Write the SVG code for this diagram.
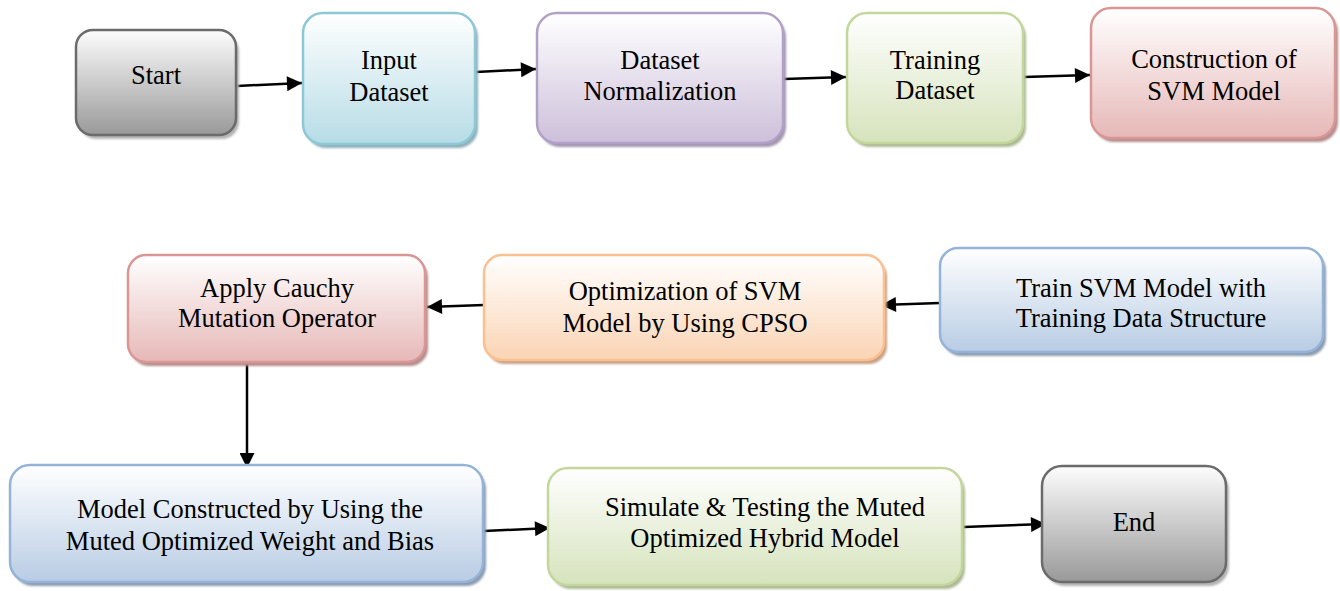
<svg xmlns="http://www.w3.org/2000/svg" width="1340" height="591" viewBox="0 0 1340 591">
  <defs>
    <linearGradient id="gGray" x1="0" y1="0" x2="0" y2="1">
      <stop offset="0" stop-color="#fdfdfd"/>
      <stop offset="1" stop-color="#999999"/>
    </linearGradient>
    <linearGradient id="gCyan" x1="0" y1="0" x2="0" y2="1">
      <stop offset="0" stop-color="#ffffff"/>
      <stop offset="1" stop-color="#b6dce6"/>
    </linearGradient>
    <linearGradient id="gPurple" x1="0" y1="0" x2="0" y2="1">
      <stop offset="0" stop-color="#ffffff"/>
      <stop offset="1" stop-color="#cdbfda"/>
    </linearGradient>
    <linearGradient id="gGreen" x1="0" y1="0" x2="0" y2="1">
      <stop offset="0" stop-color="#ffffff"/>
      <stop offset="1" stop-color="#d6e3bc"/>
    </linearGradient>
    <linearGradient id="gRed" x1="0" y1="0" x2="0" y2="1">
      <stop offset="0" stop-color="#ffffff"/>
      <stop offset="1" stop-color="#e6b8b7"/>
    </linearGradient>
    <linearGradient id="gOrange" x1="0" y1="0" x2="0" y2="1">
      <stop offset="0" stop-color="#ffffff"/>
      <stop offset="1" stop-color="#fbd4b4"/>
    </linearGradient>
    <linearGradient id="gBlue" x1="0" y1="0" x2="0" y2="1">
      <stop offset="0" stop-color="#ffffff"/>
      <stop offset="1" stop-color="#b8cce4"/>
    </linearGradient>
    <filter id="soft" x="-5%" y="-5%" width="110%" height="110%">
      <feGaussianBlur stdDeviation="1"/>
    </filter>
    <marker id="arrow" viewBox="0 0 10 10" refX="10" refY="5" markerWidth="7" markerHeight="6" markerUnits="strokeWidth" orient="auto">
      <path d="M0,0 L10,5 L0,10 Z" fill="#000"/>
    </marker>
  </defs>
  <style>
    .box { stroke-width: 2.5; }
    .shadow { filter: url(#soft); }
    .label { font-size: 26.5px; fill: #000; text-anchor: middle; }
    .conn { stroke: #000; stroke-width: 2.5; fill: none; marker-end: url(#arrow); }
  </style>

  <!-- connectors -->
  <g id="connectors">
    <line class="conn" x1="237" y1="86" x2="302" y2="83"/>
    <line class="conn" x1="476" y1="72" x2="536" y2="69"/>
    <line class="conn" x1="784" y1="79" x2="846" y2="77"/>
    <line class="conn" x1="1024" y1="77" x2="1090" y2="75"/>
    <line class="conn" x1="940" y1="303" x2="881" y2="305"/>
    <line class="conn" x1="484" y1="305" x2="427" y2="307"/>
    <line class="conn" x1="247" y1="362" x2="247" y2="468"/>
    <line class="conn" x1="484" y1="531" x2="550" y2="528"/>
    <line class="conn" x1="964" y1="527" x2="1046" y2="524"/>
  </g>

  <g font-family="'Liberation Serif', 'DejaVu Serif', serif">
  <!-- top row -->
  <g id="start">
    <rect class="shadow" x="79" y="34" width="160" height="105" rx="17" fill="#b3b3b3"/>
    <rect class="box" x="76" y="30" width="160" height="105" rx="17" fill="url(#gGray)" stroke="#6b6b6b"/>
    <text class="label" x="156" y="84">Start</text>
  </g>
  <g id="input-dataset">
    <rect class="shadow" x="306" y="17" width="172" height="131" rx="20" fill="#8fb1ba"/>
    <rect class="box" x="303" y="13" width="172" height="131" rx="20" fill="url(#gCyan)" stroke="#8cc8d6"/>
    <text class="label" x="389" y="69">Input</text>
    <text class="label" x="389" y="101">Dataset</text>
  </g>
  <g id="dataset-normalization">
    <rect class="shadow" x="540" y="17" width="246" height="130" rx="20" fill="#a397b0"/>
    <rect class="box" x="537" y="13" width="246" height="130" rx="20" fill="url(#gPurple)" stroke="#b2a1c7"/>
    <text class="label" x="660" y="69">Dataset</text>
    <text class="label" x="660" y="100">Normalization</text>
  </g>
  <g id="training-dataset">
    <rect class="shadow" x="850" y="17" width="176" height="130" rx="20" fill="#adb997"/>
    <rect class="box" x="847" y="13" width="176" height="130" rx="20" fill="url(#gGreen)" stroke="#c3d69b"/>
    <text class="label" x="935" y="69">Training</text>
    <text class="label" x="935" y="99">Dataset</text>
  </g>
  <g id="construction-svm">
    <rect class="shadow" x="1094" y="12" width="244" height="130" rx="20" fill="#b48e8e"/>
    <rect class="box" x="1091" y="8" width="244" height="130" rx="20" fill="url(#gRed)" stroke="#d99694"/>
    <text class="label" x="1214" y="68">Construction of</text>
    <text class="label" x="1214" y="100">SVM Model</text>
  </g>

  <!-- middle row -->
  <g id="train-svm">
    <rect class="shadow" x="943" y="252" width="383" height="104" rx="18" fill="#8b9bb0"/>
    <rect class="box" x="940" y="248" width="383" height="104" rx="18" fill="url(#gBlue)" stroke="#95b3d7"/>
    <text class="label" x="1141" y="297">Train SVM Model with</text>
    <text class="label" x="1141" y="327">Training Data Structure</text>
  </g>
  <g id="optimization-cpso">
    <rect class="shadow" x="487" y="259" width="400" height="105" rx="18" fill="#c9a084"/>
    <rect class="box" x="484" y="255" width="400" height="105" rx="18" fill="url(#gOrange)" stroke="#fac08f"/>
    <text class="label" x="685" y="300">Optimization of SVM</text>
    <text class="label" x="685" y="332">Model by Using CPSO</text>
  </g>
  <g id="cauchy-mutation">
    <rect class="shadow" x="131" y="259" width="297" height="107" rx="18" fill="#b48e8e"/>
    <rect class="box" x="128" y="255" width="297" height="107" rx="18" fill="url(#gRed)" stroke="#d99694"/>
    <text class="label" x="277" y="297">Apply Cauchy</text>
    <text class="label" x="277" y="327">Mutation Operator</text>
  </g>

  <!-- bottom row -->
  <g id="model-constructed">
    <rect class="shadow" x="13" y="469" width="473" height="117" rx="20" fill="#8b9bb0"/>
    <rect class="box" x="10" y="465" width="473" height="117" rx="20" fill="url(#gBlue)" stroke="#95b3d7"/>
    <text class="label" x="250" y="518">Model Constructed by Using the</text>
    <text class="label" x="250" y="550">Muted Optimized Weight and Bias</text>
  </g>
  <g id="simulate-testing">
    <rect class="shadow" x="551" y="472" width="414" height="117" rx="20" fill="#adb997"/>
    <rect class="box" x="548" y="468" width="414" height="117" rx="20" fill="url(#gGreen)" stroke="#c3d69b"/>
    <text class="label" x="765" y="516">Simulate &amp; Testing the Muted</text>
    <text class="label" x="765" y="547">Optimized Hybrid Model</text>
  </g>
  <g id="end">
    <rect class="shadow" x="1045" y="470" width="184" height="116" rx="20" fill="#b3b3b3"/>
    <rect class="box" x="1042" y="466" width="184" height="116" rx="20" fill="url(#gGray)" stroke="#6b6b6b"/>
    <text class="label" x="1134" y="531">End</text>
  </g>
  </g>
</svg>
